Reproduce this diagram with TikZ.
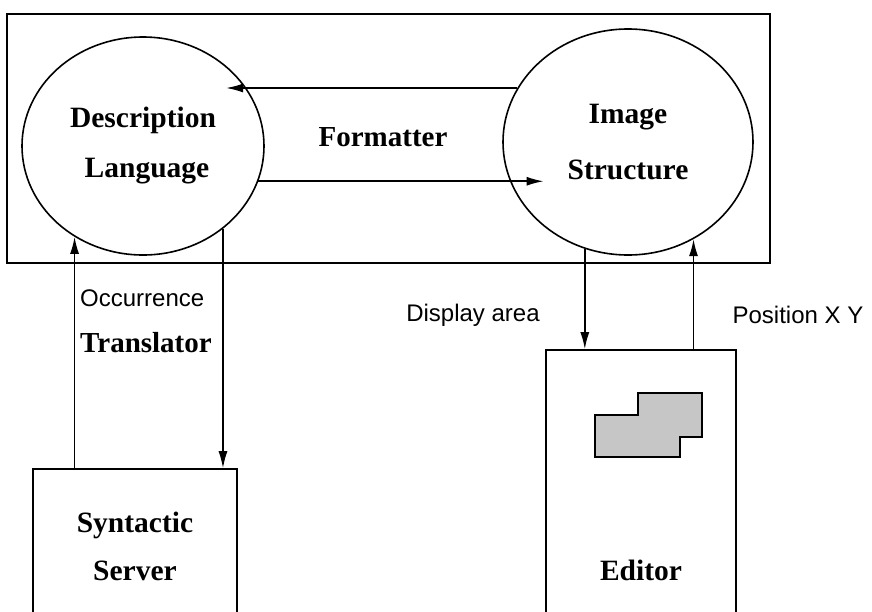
\documentclass[tikz,border=0pt]{standalone}
\usepackage{fontspec}
\setmainfont{Liberation Serif}
\setsansfont{Liberation Sans}
\usetikzlibrary{shapes.geometric,arrows.meta}

\tikzset{
  blob/.style={ellipse, draw, line width=1.6pt, inner sep=0pt, align=center,
    minimum width=242, minimum height=218,
    font=\fontsize{29.5}{50}\selectfont\bfseries},
  box/.style={rectangle, draw, line width=1.6pt, inner sep=0pt, align=center,
    font=\fontsize{29.5}{48}\selectfont\bfseries},
  arr/.style={line width=1.6pt, -{Latex[length=17pt,width=9pt]}},
  lbl/.style={font=\fontsize{24}{28}\selectfont\sffamily, inner sep=0pt},
  title/.style={font=\fontsize{29}{34}\selectfont\bfseries, inner sep=0pt}
}

\begin{document}
\begin{tikzpicture}[x=1pt,y=-1pt]
    \useasboundingbox (0,0) rectangle (872,611);

    % Formatter frame
    \node[draw, line width=1.5pt, minimum width=763, minimum height=249, inner sep=0pt] (frame) at (388.5,138.5) {};
    \node[blob] (desc) at (143,146) {Description\\Language\hspace*{-8pt}};
    \node[blob, minimum width=250, minimum height=226, font=\fontsize{29.5}{56}\selectfont\bfseries] (img) at (628,142) {Image\\Structure};
    \node[title] (fmt) at (383,137) {Formatter};

    % Arrows inside the frame
    \draw[arr] (img.154) -- (img.154 -| desc.44);
    \draw[arr] (desc.343) -- (desc.343 -| img.225);

    % Syntactic Server
    \node[box, minimum width=204, minimum height=154] (srv) at (135,546) {Syntactic\\Server};

    % Editor
    \node[box, minimum width=190, minimum height=440] (ed) at (641,570) {Editor};
    \draw[line width=2.5pt, fill=gray!45] (595,415) -- (638,415) -- (638,393) -- (702,393)
        -- (702,437) -- (680,437) -- (680,457) -- (595,457) -- cycle;

    % Translator
    \draw[arr] (srv.north -| desc.233) -- (desc.233);
    \draw[arr] (desc.314) -- (desc.314 |- srv.north);
    \node[lbl, anchor=west] (occ) at (80,298) {Occurrence};
    \node[title, anchor=west] (trans) at (80,343) {Translator};

    % Display and position
    \draw[arr] (img.248) -- (img.248 |- ed.north);
    \draw[arr] (ed.north -| img.304) -- (img.304);
    \node[lbl] (disp) at (473,315) {Display area};
    \node[lbl] (pos) at (798,315) {Position X Y};
\end{tikzpicture}
\end{document}
